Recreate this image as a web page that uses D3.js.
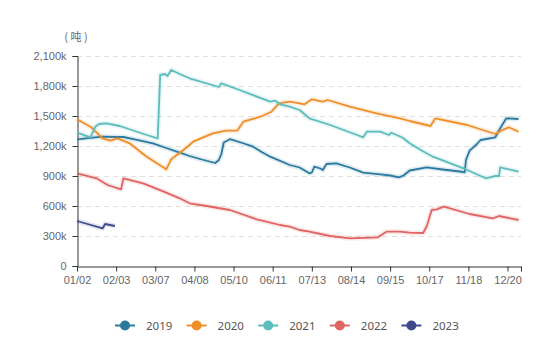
<!DOCTYPE html>
<html>
<head>
<meta charset="utf-8">
<script src="https://cdn.jsdelivr.net/npm/d3@7/dist/d3.min.js"></script>
<style>
  html, body { margin: 0; padding: 0; background: #fff; }
  svg { display: block; font-family: "Noto Sans", "Noto Sans CJK SC", sans-serif; }
</style>
</head>
<body>
<div id="chart"></div>
<script>
// ---- DATA ----
// category axis: one point per day, labels every 32 days
const categories = d3.timeDay.range(new Date(2023, 0, 2), new Date(2024, 0, 1))
    .map(d3.timeFormat("%m/%d"));
const xTickLabels = ["01/02", "02/03", "03/07", "04/08", "05/10", "06/11",
                     "07/13", "08/14", "09/15", "10/17", "11/18", "12/20"];
const yTicks = [0, 300, 600, 900, 1200, 1500, 1800, 2100];
const seriesNames = ["2019", "2020", "2021", "2022", "2023"];
const seriesColors = ["#2a7a9e", "#ee8f2a", "#5dbdbd", "#e06462", "#3e4a8c"];

// values in thousand tonnes, [date, value]
const s2019 = [
    ["01/02", 1267], ["01/13", 1282], ["01/23", 1293], ["02/03", 1290], ["02/09", 1290],
    ["02/20", 1262], ["03/05", 1227], ["03/16", 1180], ["03/27", 1133], ["04/04", 1100],
    ["04/14", 1065], ["04/25", 1030], ["04/28", 1060], ["04/30", 1120], ["05/02", 1235],
    ["05/07", 1268], ["05/16", 1235], ["05/26", 1193], ["06/02", 1140], ["06/09", 1093],
    ["06/25", 1010], ["07/03", 985], ["07/11", 927], ["07/13", 935], ["07/15", 993],
    ["07/20", 975], ["07/22", 960], ["07/25", 1020], ["08/02", 1027], ["08/13", 985],
    ["08/24", 933], ["09/07", 917], ["09/15", 905], ["09/22", 887], ["09/26", 905],
    ["10/01", 955], ["10/15", 987], ["10/28", 965], ["11/11", 945], ["11/15", 937],
    ["11/16", 1060], ["11/19", 1153], ["11/25", 1220], ["11/28", 1260], ["12/10", 1287],
    ["12/14", 1377], ["12/19", 1477], ["12/29", 1470]
];
const s2020 = [
    ["01/02", 1467], ["01/13", 1393], ["01/23", 1277], ["01/29", 1253], ["02/04", 1277],
    ["02/14", 1227], ["02/28", 1093], ["03/08", 1030], ["03/16", 967], ["03/20", 1067],
    ["03/30", 1160], ["04/03", 1200], ["04/07", 1243], ["04/23", 1327], ["05/04", 1353],
    ["05/13", 1353], ["05/18", 1443], ["06/01", 1493], ["06/10", 1543], ["06/16", 1627],
    ["06/25", 1643], ["07/03", 1627], ["07/07", 1617], ["07/13", 1667], ["07/22", 1643],
    ["07/26", 1660], ["08/13", 1593], ["09/04", 1527], ["09/23", 1477], ["10/01", 1450],
    ["10/18", 1400], ["10/22", 1477], ["11/17", 1410], ["12/10", 1320], ["12/17", 1367],
    ["12/21", 1387], ["12/29", 1343]
];
const s2021 = [
    ["01/02", 1333], ["01/13", 1287], ["01/17", 1393], ["01/20", 1420], ["01/26", 1427],
    ["02/06", 1400], ["02/28", 1310], ["03/09", 1277], ["03/11", 1910], ["03/15", 1920],
    ["03/17", 1900], ["03/20", 1960], ["03/27", 1920], ["04/04", 1877], ["04/28", 1790],
    ["04/30", 1827], ["05/15", 1760], ["06/09", 1643], ["06/13", 1653], ["06/17", 1617],
    ["06/25", 1593], ["07/03", 1560], ["07/11", 1477], ["07/28", 1410], ["08/19", 1310],
    ["08/24", 1287], ["08/27", 1343], ["09/07", 1343], ["09/14", 1310], ["09/16", 1333],
    ["09/25", 1285], ["10/01", 1227], ["10/10", 1160], ["10/20", 1093], ["11/14", 977],
    ["12/02", 877], ["12/10", 900], ["12/13", 900], ["12/14", 987], ["12/29", 943]
];
const s2022 = [
    ["01/02", 927], ["01/18", 877], ["01/27", 810], ["02/07", 767], ["02/09", 877],
    ["02/25", 827], ["03/14", 743], ["03/27", 677], ["04/04", 627], ["04/18", 600],
    ["05/07", 560], ["05/29", 467], ["06/17", 410], ["06/25", 393], ["07/03", 360],
    ["07/11", 343], ["07/28", 300], ["08/13", 277], ["09/05", 287], ["09/12", 343],
    ["09/23", 343], ["10/01", 333], ["10/12", 330], ["10/15", 400], ["10/19", 560],
    ["10/23", 567], ["10/29", 593], ["11/19", 520], ["12/08", 477], ["12/13", 500],
    ["12/29", 460]
];
const s2023 = [
    ["01/02", 450], ["01/12", 415], ["01/23", 377], ["01/25", 420], ["02/02", 400]
];
const seriesData = [s2019, s2020, s2021, s2022, s2023];

// ---- CHART ----
const width = 550, height = 342;
const svg = d3.select("#chart").append("svg")
    .attr("width", width)
    .attr("height", height);

const x = d3.scalePoint()
    .domain(categories)
    .range([77, 521]);

const y = d3.scaleLinear()
    .domain([0, 2100])
    .range([266, 56]);

// gridlines
svg.append("g")
    .selectAll("line")
    .data(yTicks.filter(d => d > 0))
    .enter()
    .append("line")
    .attr("x1", 77)
    .attr("x2", 521)
    .attr("y1", d => y(d) + 0.5)
    .attr("y2", d => y(d) + 0.5)
    .attr("stroke", "#e0e0e0")
    .attr("stroke-dasharray", "5,4");

// y axis
const yAxis = svg.append("g")
    .attr("transform", "translate(77.5,0)")
    .attr("color", "#333")
    .call(d3.axisLeft(y)
        .tickValues(yTicks)
        .tickSize(5)
        .tickPadding(6)
        .tickFormat(d => d === 0 ? "0" : d3.format(",")(d) + "k"));
yAxis.selectAll("text").attr("fill", "#666").attr("font-size", 11);

// x axis
const xAxis = svg.append("g")
    .attr("transform", "translate(0,266.5)")
    .attr("color", "#333")
    .call(d3.axisBottom(x)
        .tickValues(xTickLabels.concat([categories[categories.length - 1]]))
        .tickSize(5)
        .tickSizeOuter(0)
        .tickPadding(5));
xAxis.selectAll("text")
    .attr("fill", "#666")
    .attr("font-size", 11)
    .text(d => xTickLabels.includes(d) ? d : "");

// unit label
svg.append("text")
    .attr("x", 76)
    .attr("y", 41)
    .attr("text-anchor", "middle")
    .attr("fill", "#666")
    .attr("font-size", 11)
    .attr("font-family", "Noto Sans CJK SC")
    .text("( 吨 )");

// lines
const line = d3.line()
    .x(d => x(d[0]))
    .y(d => y(d[1]));

seriesData.forEach((s, i) => {
    // soft halo
    svg.append("path")
        .datum(s)
        .attr("d", line)
        .attr("fill", "none")
        .attr("stroke", seriesColors[i])
        .attr("stroke-width", 5)
        .attr("stroke-linejoin", "round")
        .attr("opacity", 0.15);
    svg.append("path")
        .datum(s)
        .attr("d", line)
        .attr("fill", "none")
        .attr("stroke", seriesColors[i])
        .attr("stroke-width", 1.8)
        .attr("stroke-linejoin", "round");
});

// legend
const legend = svg.append("g")
    .selectAll("g")
    .data(seriesNames)
    .enter()
    .append("g")
    .attr("transform", (d, i) => `translate(${125 + i * 71.6},325.5)`);

legend.append("line")
    .attr("x1", -10)
    .attr("x2", 10)
    .attr("stroke", (d, i) => seriesColors[i])
    .attr("stroke-width", 2);

legend.append("circle")
    .attr("r", 5)
    .attr("fill", (d, i) => seriesColors[i]);

legend.append("text")
    .attr("x", 21)
    .attr("dy", "0.35em")
    .attr("fill", "#555")
    .attr("font-size", 11.5)
    .text(d => d);
</script>
</body>
</html>
